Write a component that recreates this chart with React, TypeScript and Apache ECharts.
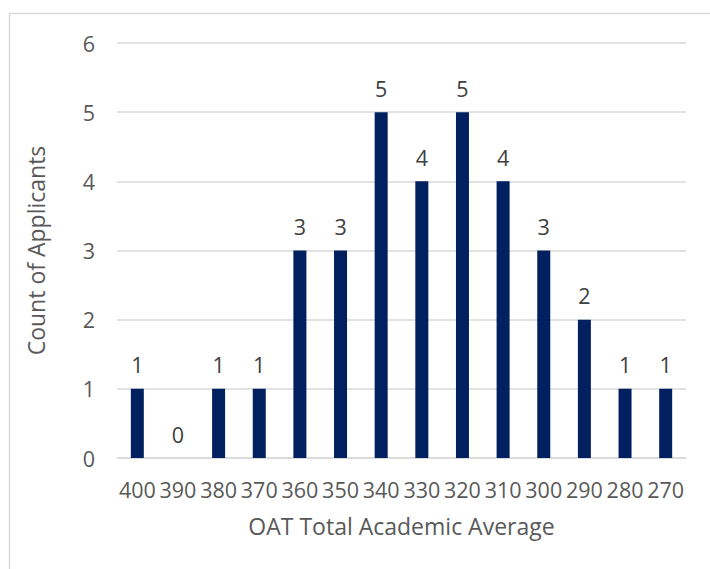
import React, { useEffect, useRef } from "react";
import * as echarts from "echarts";

const categories = ["400", "390", "380", "370", "360", "350", "340", "330", "320", "310", "300", "290", "280", "270"];
const counts = [1, 0, 1, 1, 3, 3, 5, 4, 5, 4, 3, 2, 1, 1];
const yTicks = { min: 0, max: 6, interval: 1 };

const FONT = "'Open Sans', sans-serif";
const TXT = "#595959";

export default function App() {
  const ref = useRef<HTMLDivElement>(null);
  useEffect(() => {
    if (!ref.current) return;
    const chart = echarts.init(ref.current, null, { renderer: "svg" });
    chart.setOption({
      animation: false,
      backgroundColor: "#ffffff",
      textStyle: { fontFamily: FONT },
      graphic: [
        {
          type: "rect",
          shape: { x: 9.5, y: 13.5, width: 720, height: 580 },
          style: { fill: "none", stroke: "#d9d9d9", lineWidth: 1.5 },
          silent: true,
          z: -1,
        },
      ],
      grid: { left: 117, right: 24, top: 43, bottom: 111 },
      xAxis: {
        type: "category",
        data: categories,
        axisLine: { lineStyle: { color: "#d9d9d9", width: 1.5 } },
        axisTick: { show: false },
        axisLabel: { color: TXT, fontSize: 21.5, fontFamily: FONT, margin: 20, interval: 0 },
        name: "OAT Total Academic Average",
        nameLocation: "middle",
        nameGap: 56,
        nameTextStyle: { color: TXT, fontSize: 23, fontFamily: FONT },
      },
      yAxis: {
        type: "value",
        min: yTicks.min,
        max: yTicks.max,
        interval: yTicks.interval,
        axisLine: { show: false },
        axisTick: { show: false },
        splitLine: { lineStyle: { color: "#d9d9d9", width: 1.5 } },
        axisLabel: { color: TXT, fontSize: 21.5, fontFamily: FONT, margin: 22 },
        name: "Count of Applicants",
        nameLocation: "middle",
        nameGap: 70,
        nameTextStyle: { color: TXT, fontSize: 23, fontFamily: FONT },
      },
      series: [
        {
          type: "bar",
          data: counts,
          barWidth: 13,
          itemStyle: { color: "#002060" },
          label: {
            show: true,
            position: "top",
            distance: 13,
            color: "#404040",
            fontSize: 21.5,
            fontFamily: FONT,
          },
        },
      ],
    });
    return () => chart.dispose();
  }, []);
  return (
    <div
      ref={ref}
      style={{ position: "fixed", left: 0, top: 0, width: 710, height: 569 }}
    />
  );
}
